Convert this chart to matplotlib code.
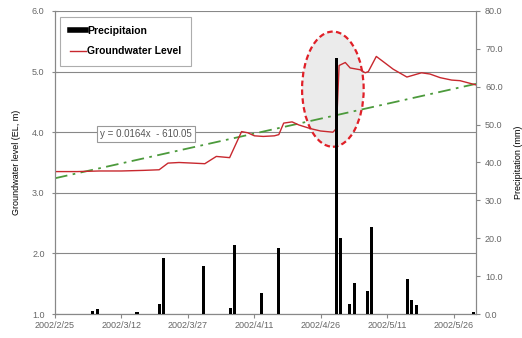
import numpy as np
import pandas as pd
import matplotlib
matplotlib.use("Agg")
import matplotlib.pyplot as plt
from matplotlib.lines import Line2D
from matplotlib.patches import Ellipse

plt.rcParams['font.family'] = ['Liberation Sans', 'DejaVu Sans']

start = pd.Timestamp('2002-02-25')

# daily rainfall (mm)
rain_dates = ['2002-03-05', '2002-03-06', '2002-03-15', '2002-03-20', '2002-03-21',
              '2002-03-30', '2002-04-05', '2002-04-06', '2002-04-12', '2002-04-16',
              '2002-04-29', '2002-04-30', '2002-05-02', '2002-05-03', '2002-05-06',
              '2002-05-07', '2002-05-15', '2002-05-16', '2002-05-17', '2002-05-30']
rain_mm = [0.7, 1.2, 0.6, 2.6, 14.7,
           12.7, 1.7, 18.1, 5.6, 17.5,
           67.6, 20.0, 2.6, 8.3, 6.2,
           23.1, 9.2, 3.8, 2.3, 0.5]

# groundwater level (EL, m), days after 2002/2/25
gw_day = [0, 5, 10, 15, 20, 23.5, 25.5, 28, 31, 33.8, 36.4, 39.4, 42.1, 43.5, 45,
          47, 49.5, 50.5, 51.6, 53.5, 55, 57.6, 59.9, 62.7, 63.5, 64.1, 65.5, 66.6,
          68.9, 70.0, 70.7, 72.5, 74.5, 76.3, 79.4, 82.7, 84.6, 86.9, 89.5, 91.4, 95]
gw_level = [3.35, 3.35, 3.36, 3.36, 3.37, 3.38, 3.49, 3.50, 3.49, 3.48, 3.60, 3.58,
            4.01, 3.99, 3.94, 3.93, 3.94, 3.96, 4.15, 4.17, 4.12, 4.06, 4.02, 4.00,
            4.06, 5.10, 5.15, 5.06, 5.03, 4.98, 5.00, 5.25, 5.14, 5.04, 4.91, 4.98,
            4.96, 4.90, 4.86, 4.85, 4.78]

trend_slope = 0.0164   # m per day
trend_start = 3.24
trend_label = 'y = 0.0164x  - 610.05'

tick_dates = pd.date_range('2002-02-25', periods=7, freq='15D')
end = start + pd.Timedelta(days=95)

gw_x = start + pd.to_timedelta(gw_day, unit='D')
rain_x = pd.to_datetime(rain_dates) + pd.Timedelta(hours=12)
trend_days = np.array([0, 95])
trend_x = start + pd.to_timedelta(trend_days, unit='D')
trend_y = trend_start + trend_slope * trend_days

grey = '#888888'
txt = '#666666'

fig = plt.figure(figsize=(5.22, 3.38), dpi=100)
ax = fig.add_axes([0.1054, 0.071, 0.8065, 0.8965])
ax2 = ax.twinx()

ax.set_axisbelow(True)
ax.yaxis.grid(True, color=grey, lw=0.8)
ax.set_ylim(1.0, 6.0)
ax.set_yticks(np.arange(1.0, 6.01, 1.0))
ax.set_yticklabels([f'{v:.1f}' for v in np.arange(1.0, 6.01, 1.0)])
ax.set_xlim(start, end)

# highlight around the late-April jump
ell = Ellipse((start + pd.Timedelta(days=62.7), 4.71), width=13.9, height=1.9,
              facecolor='#ebebeb', edgecolor='#e02028', ls=(0, (2.5, 1.5)), lw=1.6,
              zorder=1)
ax.add_patch(ell)

ax.plot(trend_x, trend_y, color='#4c9a3c', lw=1.3, ls=(0, (7, 3, 1.5, 3)), zorder=2)
ax.plot(gw_x, gw_level, color='#c8282e', lw=1.0, zorder=3)

ax.text(start + pd.Timedelta(days=20.5), 3.97, trend_label, fontsize=7, color='#555555',
        ha='center', va='center', zorder=4,
        bbox=dict(boxstyle='square,pad=0.3', fc='white', ec='#999999', lw=0.8))

ax2.bar(rain_x, rain_mm, width=0.7, color='black', zorder=3)
ax2.set_ylim(0, 80)
ax2.set_yticks(np.arange(0, 81, 10))
ax2.set_yticklabels([f'{v:.1f}' for v in np.arange(0, 81, 10)])

ax.set_xticks(tick_dates)
ax.set_xticklabels([f'{d.year}/{d.month}/{d.day}' for d in tick_dates])

for a in (ax, ax2):
    for s in a.spines.values():
        s.set_color(grey)
    a.spines['top'].set_visible(False)
    a.tick_params(colors=grey, labelcolor=txt, labelsize=6.5, length=3, width=0.8)
ax.tick_params(axis='y', direction='inout', length=5, pad=5)
ax.tick_params(axis='x', pad=2)

ax.set_ylabel('Groundwater level (EL, m)', fontsize=6.5, labelpad=8)
ax2.set_ylabel('Precipitation (mm)', fontsize=6.5, labelpad=8)

handles = [Line2D([], [], color='black', lw=4),
           Line2D([], [], color='#c8282e', lw=1.0)]
leg = ax2.legend(handles, ['Precipitaion', 'Groundwater Level'], loc='upper left',
                 bbox_to_anchor=(0.005, 0.992), fancybox=False, edgecolor='#999999',
                 prop={'weight': 'bold', 'size': 7.5}, handlelength=1.6,
                 handletextpad=0.1, borderpad=0.9, labelspacing=1.0,
                 borderaxespad=0.3)
leg.get_frame().set_linewidth(0.8)

fig.savefig('out.png', dpi=100)
